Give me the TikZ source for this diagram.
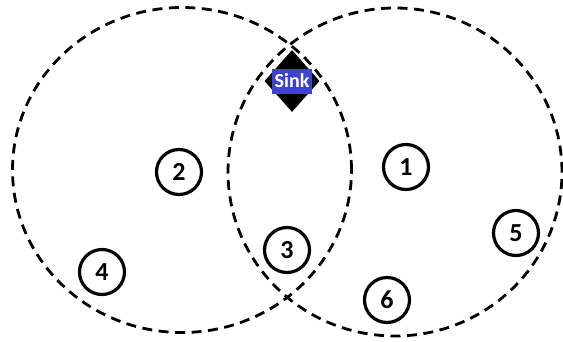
\documentclass[tikz,border=0pt]{standalone}
\usepackage{fontspec}
\setmainfont{Carlito}
\usetikzlibrary{shapes.geometric}
\definecolor{sinkblue}{RGB}{62,66,205}
\begin{document}
\begin{tikzpicture}[x=1pt,y=-1pt,
  radiozone/.style={draw=black,line width=2.8pt,dash pattern=on 10pt off 6.5pt},
  sensor/.style={circle,draw=black,line width=3.2pt,fill=white,minimum size=45pt,inner sep=0pt,font=\fontsize{26}{26}\selectfont\bfseries},
  sinkshape/.style={diamond,fill=black,inner sep=0pt,minimum width=55pt,minimum height=62pt},
  sinklabel/.style={fill=sinkblue,text=white,inner sep=0pt,minimum width=40pt,minimum height=25pt,font=\fontsize{20}{20}\selectfont\bfseries}]
\useasboundingbox (0,0) rectangle (563,341);
\node[radiozone,ellipse,minimum width=339pt,minimum height=325pt,inner sep=0pt] (cl) at (182,170) {};
\node[radiozone,ellipse,minimum width=334pt,minimum height=328pt,inner sep=0pt] (cr) at (395,172) {};
\node[sinkshape] (sinkd) at (292,81) {};
\node[sinklabel] (sink) at (sinkd.center) {Sink};
\node[sensor] (n1) at (406,167) {1};
\node[sensor] (n2) at (179,172) {2};
\node[sensor] (n3) at (287,250) {3};
\node[sensor] (n4) at (102,272) {4};
\node[sensor] (n5) at (516,233) {5};
\node[sensor] (n6) at (387,300) {6};
\end{tikzpicture}
\end{document}
